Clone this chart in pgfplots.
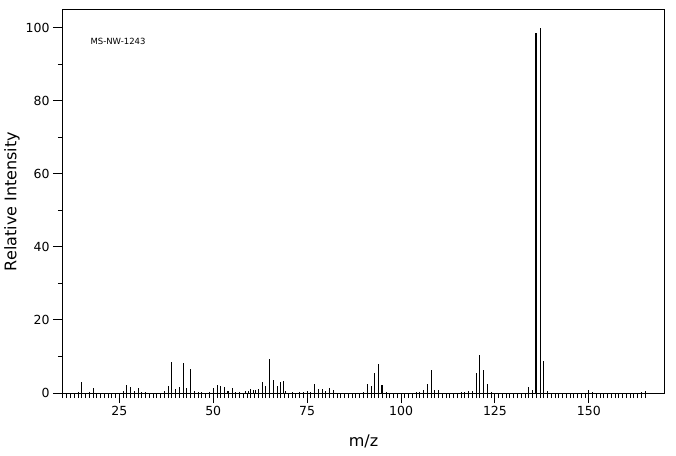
\documentclass[border=0pt]{standalone}
\usepackage{fontspec}
\setmainfont{DejaVu Sans}
\usepackage{pgfplots}
\pgfplotsset{compat=1.18}
\begin{document}
\begin{tikzpicture}
\useasboundingbox (-63pt,-62pt) rectangle (613pt,393pt);
\begin{axis}[
    at={(0,0)}, anchor=south west,
    scale only axis, width=601pt, height=383pt,
    xmin=10, xmax=170, ymin=0, ymax=104.8,
    xtick={25,50,...,150}, minor xtick={10,11,...,165},
    ytick={0,20,...,100}, minor ytick={10,30,...,90},
    tick align=outside, xtick pos=bottom, ytick pos=left,
    major tick length=10pt, minor tick length=5pt,
    every tick/.style={black, line width=1pt},
    axis line style={line width=1pt},
    tick label style={font=\fontsize{12.5}{14}\selectfont},
    /pgf/number format/assume math mode=true,
    xlabel={m/z}, ylabel={Relative Intensity},
    label style={font=\fontsize{16}{18}\selectfont},
    xlabel style={at={(axis description cs:0.5,-0.1253)}, anchor=center},
    ylabel style={at={(axis description cs:-0.0849,0.5)}, anchor=center},
  ]
  % thin peaks
  \addplot[ycomb, black, line width=1pt] coordinates {
      (14,0.4) (15,3.1) (17,0.4) (18,1.5)
      (26,0.6) (27,2.3) (28,1.7) (29,0.6) (30,1.5) (31,0.4) (32,0.4)
      (37,0.6) (38,2.0) (39,8.6) (40,1.2) (41,1.7) (42,8.1) (43,1.5) (44,6.6)
      (45,0.6) (46,0.4) (47,0.4) (49,0.4) (50,1.5) (51,2.3) (52,2.0) (53,1.7)
      (55,1.5) (56,0.4) (57,0.4) (58.5,0.6) (59.4,0.5) (60,1.1) (60.6,0.9)
      (61.3,0.7) (62.1,1.2) (63,3.1) (64,2.0) (65,9.4) (66,3.6) (67,2.0)
      (68,2.9) (68.6,3.4) (69.2,0.6) (71,0.3) (73,0.4) (74,0.4) (75,0.5) (76,0.4)
      (77,2.5) (78,1.2) (79,1.2) (80,0.6) (81,1.5) (82,0.9)
      (90,0.4) (91,2.5) (92,2.0) (93,5.6) (94,8.0) (96,0.4)
      (104,0.4) (105,0.4) (106,0.9) (107,2.5) (108,6.4) (109,0.9) (110,0.9)
      (116,0.4) (117,0.4) (118,0.6) (119,0.6) (120,5.6) (121,10.5) (122,6.4)
      (123,2.5) (124,0.4)
      (134,1.7) (135,0.9) (137,100) (138,8.8) (139,0.6)
      (150,0.9) (151,0.4) (164,0.4) (165,0.6)
    };
  % wider peaks
  \addplot[ycomb, black, line width=2pt] coordinates {
      (54,0.6) (95,2.3) (136,98.5)
    };
  \node[anchor=west, font=\fontsize{8.5}{10}\selectfont] at (rel axis cs:0.04,0.919) {MS-NW-1243};
\end{axis}
\end{tikzpicture}
\end{document}
